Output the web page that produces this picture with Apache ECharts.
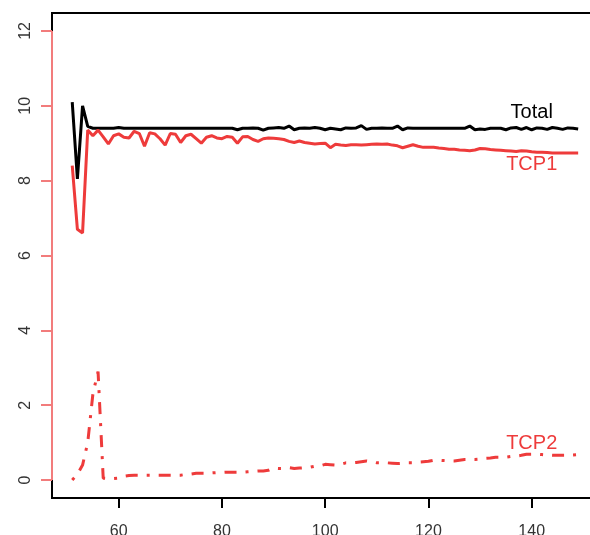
<!DOCTYPE html>
<html>
<head>
<meta charset="utf-8">
<script src="https://cdn.jsdelivr.net/npm/echarts@6/dist/echarts.min.js"></script>
<style>
  html, body { margin: 0; padding: 0; background: #fff; }
  #main { width: 590px; height: 535px; }
</style>
</head>
<body>
<div id="main"></div>
<script>
// time axis (x) and the three throughput series
var time = [51, 52, 53, 54, 55, 56, 57, 58, 59, 60,
  61, 62, 63, 64, 65, 66, 67, 68, 69, 70,
  71, 72, 73, 74, 75, 76, 77, 78, 79, 80,
  81, 82, 83, 84, 85, 86, 87, 88, 89, 90,
  91, 92, 93, 94, 95, 96, 97, 98, 99, 100,
  101, 102, 103, 104, 105, 106, 107, 108, 109, 110,
  111, 112, 113, 114, 115, 116, 117, 118, 119, 120,
  121, 122, 123, 124, 125, 126, 127, 128, 129, 130,
  131, 132, 133, 134, 135, 136, 137, 138, 139, 140,
  141, 142, 143, 144, 145, 146, 147, 148, 149];

var total = [10.1, 8.05, 10.0, 9.45, 9.4, 9.4, 9.4, 9.4, 9.4, 9.42,
  9.4, 9.4, 9.4, 9.4, 9.4, 9.4, 9.4, 9.4, 9.4, 9.4,
  9.4, 9.4, 9.4, 9.4, 9.4, 9.4, 9.4, 9.4, 9.4, 9.4,
  9.4, 9.4, 9.36, 9.4, 9.4, 9.41, 9.4, 9.35, 9.4, 9.41,
  9.42, 9.4, 9.46, 9.36, 9.4, 9.41, 9.4, 9.42, 9.4, 9.36,
  9.4, 9.38, 9.36, 9.41, 9.4, 9.41, 9.47, 9.37, 9.4, 9.4,
  9.41, 9.4, 9.4, 9.46, 9.36, 9.41, 9.4, 9.4, 9.4, 9.4,
  9.4, 9.4, 9.4, 9.4, 9.4, 9.4, 9.4, 9.46, 9.36, 9.38,
  9.37, 9.4, 9.4, 9.4, 9.36, 9.41, 9.42, 9.37, 9.42, 9.36,
  9.41, 9.4, 9.37, 9.42, 9.4, 9.37, 9.41, 9.4, 9.38];

var tcp1 = [8.4, 6.7, 6.6, 9.35, 9.2, 9.35, 9.17, 8.98, 9.2, 9.25,
  9.16, 9.14, 9.32, 9.26, 8.92, 9.28, 9.25, 9.12, 8.95, 9.26,
  9.24, 9.02, 9.2, 9.24, 9.12, 9.0, 9.16, 9.2, 9.14, 9.12,
  9.18, 9.16, 9.0, 9.17, 9.18, 9.1, 9.05, 9.12, 9.14, 9.13,
  9.12, 9.1, 9.05, 9.02, 9.06, 9.02, 9.0, 8.98, 8.99, 9.0,
  8.88, 8.97, 8.95, 8.94, 8.96, 8.96, 8.95, 8.96, 8.97, 8.98,
  8.97, 8.98, 8.95, 8.93, 8.88, 8.92, 8.96, 8.92, 8.89, 8.89,
  8.89, 8.87, 8.86, 8.84, 8.84, 8.82, 8.81, 8.8, 8.82, 8.86,
  8.85, 8.83, 8.82, 8.81, 8.8, 8.79, 8.78, 8.8, 8.79, 8.77,
  8.76, 8.76, 8.75, 8.74, 8.74, 8.74, 8.74, 8.74, 8.74];

var tcp2 = [0.0, 0.15, 0.4, 1.0, 2.3, 2.9, 0.05, 0.04, 0.04, 0.05,
  0.1, 0.12, 0.13, 0.13, 0.13, 0.13, 0.13, 0.13, 0.13, 0.13,
  0.13, 0.13, 0.15, 0.16, 0.18, 0.18, 0.18, 0.19, 0.2, 0.2,
  0.21, 0.21, 0.21, 0.21, 0.22, 0.23, 0.24, 0.24, 0.26, 0.32,
  0.31, 0.31, 0.33, 0.31, 0.32, 0.33, 0.34, 0.37, 0.38, 0.42,
  0.41, 0.4, 0.42, 0.46, 0.46, 0.47, 0.49, 0.51, 0.49, 0.46,
  0.46, 0.46, 0.45, 0.44, 0.45, 0.46, 0.46, 0.48, 0.49, 0.5,
  0.53, 0.53, 0.52, 0.51, 0.51, 0.53, 0.55, 0.55, 0.55, 0.56,
  0.58, 0.59, 0.61, 0.61, 0.61, 0.63, 0.64, 0.66, 0.69, 0.69,
  0.69, 0.68, 0.67, 0.66, 0.66, 0.66, 0.66, 0.67, 0.68];

var xTicks = [60, 80, 100, 120, 140];
var yTicks = [0, 2, 4, 6, 8, 10, 12];

// text labels placed in data units, like R's text()
var labelNames = ["Total", "TCP1", "TCP2"];
var labelX = [140, 140, 140];
var labelY = [9.83, 8.44, 0.97];

// R-style plot range (4% padding)
var xMin = 47.08, xMax = 152.92;
var yMin = -0.48, yMax = 12.48;

var red = '#EE3B3B';
var pink = '#F27C7C';
var font = 'Liberation Sans, Arial, sans-serif';

function pairs(ys) {
  return time.map(function (t, i) { return [t, ys[i]]; });
}

function textMark(i, color) {
  return {
    symbol: 'circle',
    symbolSize: 0,
    silent: true,
    label: {
      show: true,
      position: 'inside',
      formatter: labelNames[i],
      color: color,
      fontSize: 20,
      fontFamily: font
    },
    data: [{ coord: [labelX[i], labelY[i]] }]
  };
}

var myChart = echarts.init(document.getElementById('main'));
var option = {
  animation: false,
  backgroundColor: '#fff',
  grid: {
    left: 52,
    top: 13,
    width: 546.4,
    height: 485,
    outerBoundsMode: 'none',
    show: true,
    borderColor: '#000',
    borderWidth: 2,
    backgroundColor: 'transparent'
  },
  xAxis: {
    type: 'value',
    min: xMin,
    max: xMax,
    splitLine: { show: false },
    axisLine: { show: false, onZero: false },
    axisTick: {
      show: true,
      customValues: xTicks,
      length: 10,
      lineStyle: { color: '#000', width: 2 }
    },
    axisLabel: {
      customValues: xTicks,
      margin: 26,
      fontSize: 16,
      fontFamily: font,
      color: '#333'
    }
  },
  yAxis: {
    type: 'value',
    min: yMin,
    max: yMax,
    splitLine: { show: false },
    axisLine: { show: false, onZero: false },
    axisTick: {
      show: true,
      customValues: yTicks,
      length: 11,
      lineStyle: { color: pink, width: 2 }
    },
    axisLabel: {
      customValues: yTicks,
      rotate: 90,
      margin: 18,
      fontSize: 16,
      fontFamily: font,
      color: '#333'
    }
  },
  series: [
    {
      name: 'Total',
      type: 'line',
      data: pairs(total),
      showSymbol: false,
      lineStyle: { color: '#000', width: 3 },
      itemStyle: { color: '#000' },
      markPoint: textMark(0, '#000')
    },
    {
      name: 'TCP1',
      type: 'line',
      data: pairs(tcp1),
      showSymbol: false,
      lineStyle: { color: red, width: 3 },
      itemStyle: { color: red },
      markPoint: textMark(1, red)
    },
    {
      name: 'TCP2',
      type: 'line',
      data: pairs(tcp2),
      showSymbol: false,
      clip: false,
      lineStyle: { color: red, width: 3, type: [3, 9, 12, 9], cap: 'butt' },
      itemStyle: { color: red },
      markPoint: textMark(2, red),
      // the pink left axis line only spans 0..12 like R's axis()
      markLine: {
        silent: true,
        symbol: ['none', 'none'],
        label: { show: false },
        lineStyle: { color: pink, width: 2, type: 'solid' },
        emphasis: { disabled: true },
        data: [[{ coord: [xMin, 0] }, { coord: [xMin, 12] }]]
      }
    }
  ]
};
myChart.setOption(option);
</script>
</body>
</html>
